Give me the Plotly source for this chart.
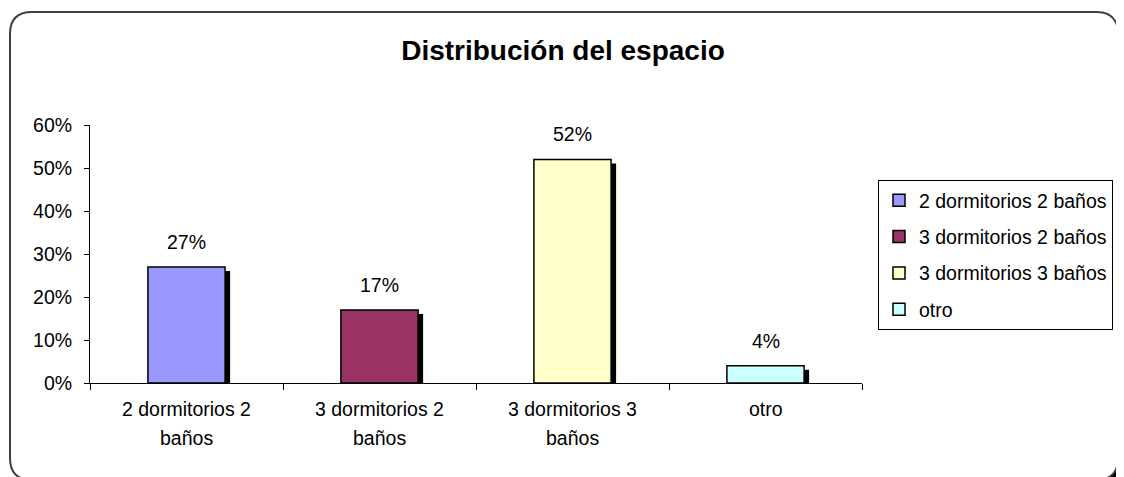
import plotly.graph_objects as go

categories = ["2 dormitorios 2 baños", "3 dormitorios 2 baños", "3 dormitorios 3 baños", "otro"]
label_lines = [["2 dormitorios 2", "baños"], ["3 dormitorios 2", "baños"], ["3 dormitorios 3", "baños"], ["otro"]]
shares = [0.27, 0.17, 0.52, 0.04]
colors = ["#9999FF", "#993366", "#FFFFCC", "#CCFFFF"]
y_ticks = [0, 0.1, 0.2, 0.3, 0.4, 0.5, 0.6]

# page body adds an 8px margin, so work in page pixels and subtract it
OFF = 8
W, H = 1124, 477
L, T = 90 - OFF, 125 - OFF
PW, PH = 862 - 90, 383 - 125
R = W - L - PW
B = H - T - PH
FONT = "Liberation Sans, Arial, sans-serif"
FS = 19.5

# shadow offset in pixels -> axis units
dx = 5 / (PW / 4)
dy = 4 / (PH / 0.6)


def px2paper(x, y):
    # x, y are page pixels
    return (x - OFF - L) / PW, (T + PH - (y - OFF)) / PH


def rounded(x0, y0, x1, y1, r):
    pts = [
        ("M", [(x0 + r, y0)]),
        ("L", [(x1 - r, y0)]),
        ("Q", [(x1, y0), (x1, y0 + r)]),
        ("L", [(x1, y1 - r)]),
        ("Q", [(x1, y1), (x1 - r, y1)]),
        ("L", [(x0 + r, y1)]),
        ("Q", [(x0, y1), (x0, y1 - r)]),
        ("L", [(x0, y0 + r)]),
        ("Q", [(x0, y0), (x0 + r, y0)]),
    ]
    out = ""
    for cmd, ps in pts:
        out += cmd + " ".join("%.5f,%.5f" % px2paper(*p) for p in ps) + " "
    return out + "Z"


fig = go.Figure()

# drop shadow behind bars (drawn on shifted hidden axes)
fig.add_trace(go.Bar(
    x=categories, y=shares, width=0.4,
    marker=dict(color="black", line=dict(width=0)),
    showlegend=False, hoverinfo="skip", xaxis="x", yaxis="y",
))

for cat, val, col in zip(categories, shares, colors):
    fig.add_trace(go.Bar(
        x=[cat], y=[val], name=cat, width=0.4, legendgroup=cat,
        marker=dict(color=col, line=dict(color="black", width=1.5)),
        xaxis="x2", yaxis="y2",
    ))
    fig.add_annotation(
        x=cat, y=val, xref="x2", yref="y2", text="%d%%" % round(val * 100),
        showarrow=False, yshift=25, yanchor="middle",
        font=dict(family=FONT, size=FS, color="black"),
    )

for cat, lines in zip(categories, label_lines):
    for i, line in enumerate(lines):
        fig.add_annotation(
            x=cat, y=0, xref="x2", yref="paper", text=line, showarrow=False,
            yanchor="middle", yshift=-26 - 29 * i,
            font=dict(family=FONT, size=FS, color="black"),
        )

fig.update_layout(
    width=W, height=H,
    margin=dict(l=L, r=R, t=T, b=B),
    paper_bgcolor="white", plot_bgcolor="rgba(0,0,0,0)",
    barmode="overlay",
    font=dict(family=FONT, size=FS, color="black"),
    title=dict(text="<b>Distribución del espacio</b>", x=(563 - OFF) / W, xref="container",
               xanchor="center", y=1 - (50 - OFF) / H, yanchor="middle",
               font=dict(family=FONT, size=28, color="black")),
    xaxis=dict(visible=False, type="category", categoryarray=categories,
               range=[-0.5 - dx, 3.5 - dx]),
    yaxis=dict(visible=False, range=[dy, 0.6 + dy]),
    xaxis2=dict(overlaying="x", anchor="y2", type="category", categoryarray=categories,
                range=[-0.5, 3.5], showticklabels=False, showline=True, linecolor="black",
                linewidth=1, ticks="outside", tickson="boundaries", ticklen=6,
                tickcolor="black", showgrid=False, zeroline=False),
    yaxis2=dict(overlaying="y", anchor="x2", range=[0, 0.6], tickvals=y_ticks,
                tickformat=".0%", showline=True, linecolor="black", linewidth=1,
                ticks="outside", ticklen=5, tickcolor="black", showgrid=False,
                zeroline=False, ticklabelstandoff=8, tickfont=dict(size=FS)),
    legend=dict(x=(878 - 90) / PW, y=(383 - 180) / PH, xanchor="left", yanchor="top",
                bordercolor="black", borderwidth=1, bgcolor="white",
                traceorder="grouped", tracegroupgap=8, font=dict(size=FS)),
    shapes=[
        dict(type="path", xref="paper", yref="paper", layer="below",
             path=rounded(15, 17, 1123, 485, 22), fillcolor="black", line=dict(width=0)),
        dict(type="path", xref="paper", yref="paper", layer="below",
             path=rounded(10, 12, 1118, 480, 22), fillcolor="white",
             line=dict(color="#404040", width=2)),
    ],
)

fig.write_html("out.html")
